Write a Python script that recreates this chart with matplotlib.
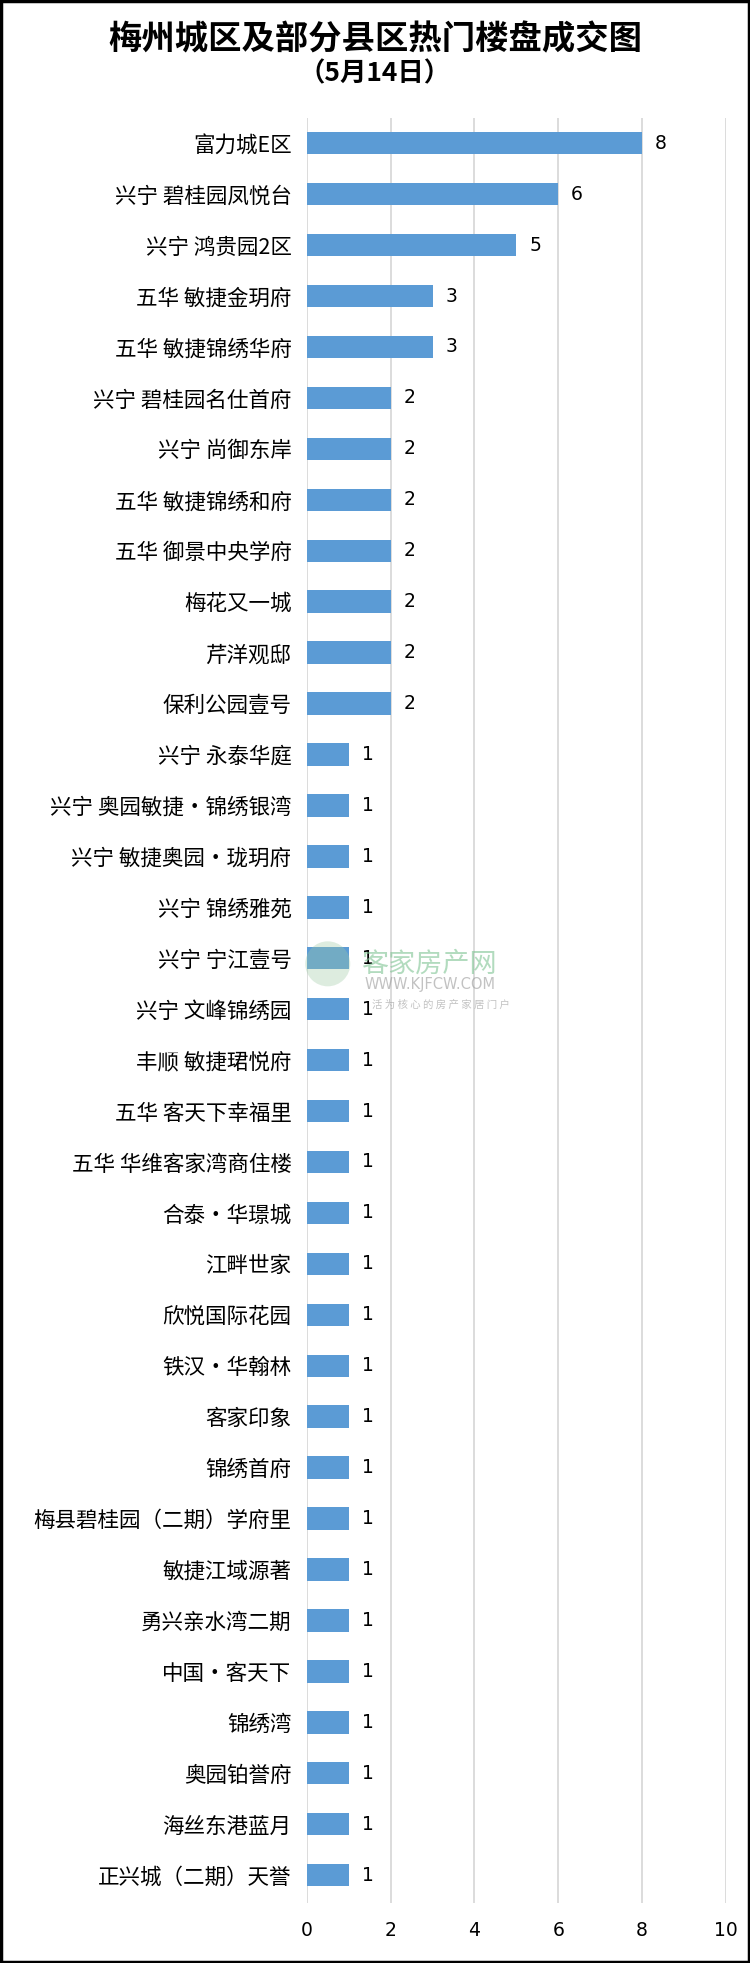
import matplotlib
matplotlib.use("Agg")
import matplotlib.pyplot as plt
from matplotlib.patches import Rectangle, Ellipse

plt.rcParams['font.family'] = ['Noto Sans CJK SC', 'DejaVu Sans']

projects = [
    '富力城E区', '兴宁 碧桂园凤悦台', '兴宁 鸿贵园2区', '五华 敏捷金玥府',
    '五华 敏捷锦绣华府', '兴宁 碧桂园名仕首府', '兴宁 尚御东岸', '五华 敏捷锦绣和府',
    '五华 御景中央学府', '梅花又一城', '芹洋观邸', '保利公园壹号',
    '兴宁 永泰华庭', '兴宁 奥园敏捷·锦绣银湾', '兴宁 敏捷奥园·珑玥府', '兴宁 锦绣雅苑',
    '兴宁 宁江壹号', '兴宁 文峰锦绣园', '丰顺 敏捷珺悦府', '五华 客天下幸福里',
    '五华 华维客家湾商住楼', '合泰·华璟城', '江畔世家', '欣悦国际花园',
    '铁汉·华翰林', '客家印象', '锦绣首府', '梅县碧桂园（二期）学府里',
    '敏捷江域源著', '勇兴亲水湾二期', '中国·客天下', '锦绣湾',
    '奥园铂誉府', '海丝东港蓝月', '正兴城（二期）天誉',
]
deals = [8, 6, 5, 3, 3, 2, 2, 2, 2, 2, 2, 2,
         1, 1, 1, 1, 1, 1, 1, 1, 1, 1, 1, 1,
         1, 1, 1, 1, 1, 1, 1, 1, 1, 1, 1]
xticks = [0, 2, 4, 6, 8, 10]

title = '梅州城区及部分县区热门楼盘成交图'
subtitle = '（5月14日）'

fig = plt.figure(figsize=(7.5, 19.63), dpi=100)
ax = fig.add_axes([0.409, 0.0305, 0.559, 0.9095])

pos = list(range(len(projects)))
ax.barh(pos, deals, height=0.44, color='#5B9BD5', zorder=3)
for y, v in zip(pos, deals):
    ax.text(v + 0.45, y, str(v), va='center', ha='center', fontsize=13.5,
            color='#000000', family=['DejaVu Sans'], zorder=4)

ax.set_xlim(0, 10)
ax.set_ylim(len(projects) - 0.45, -0.5)
ax.set_yticks(pos)
ax.set_yticklabels(projects, fontsize=15.5)
ax.set_xticks(xticks)
ax.set_xticklabels([str(t) for t in xticks], fontsize=13.5, family=['DejaVu Sans'])
ax.tick_params(axis='both', length=0)
ax.tick_params(axis='y', pad=11)
ax.tick_params(axis='x', pad=13)
ax.grid(axis='x', color='#D9D9D9', linewidth=1.3, zorder=0)
for s in ax.spines.values():
    s.set_visible(False)

fig.text(0.5, 0.9795, title, ha='center', va='center', fontsize=24, fontweight='bold')
fig.text(0.5, 0.9625, subtitle, ha='center', va='center', fontsize=19, fontweight='bold')

# watermark
fig.patches.append(Ellipse((0.437, 0.509), 0.06, 0.06 * 750 / 1963,
                           transform=fig.transFigure, facecolor='#9FCBA6',
                           edgecolor='none', alpha=0.35, zorder=5))
fig.text(0.572, 0.509, '客家房产网', ha='center', va='center', fontsize=19.5,
         color='#7FC493', alpha=0.6, zorder=6)
fig.text(0.574, 0.4985, 'WWW.KJFCW.COM', ha='center', va='center', fontsize=10.5,
         color='#9A9A9A', alpha=0.6, zorder=6, family=['DejaVu Sans'])
fig.text(0.588, 0.488, '活 为 核 心 的 房 产 家 居 门 户', ha='center', va='center',
         fontsize=7.5, color='#9A9A9A', alpha=0.6, zorder=6)

# frame
fig.patches.append(Rectangle((0.001, 0.0005), 0.998, 0.999, transform=fig.transFigure,
                             fill=False, edgecolor='black', linewidth=2.5))

fig.savefig('out.png', dpi=100)
